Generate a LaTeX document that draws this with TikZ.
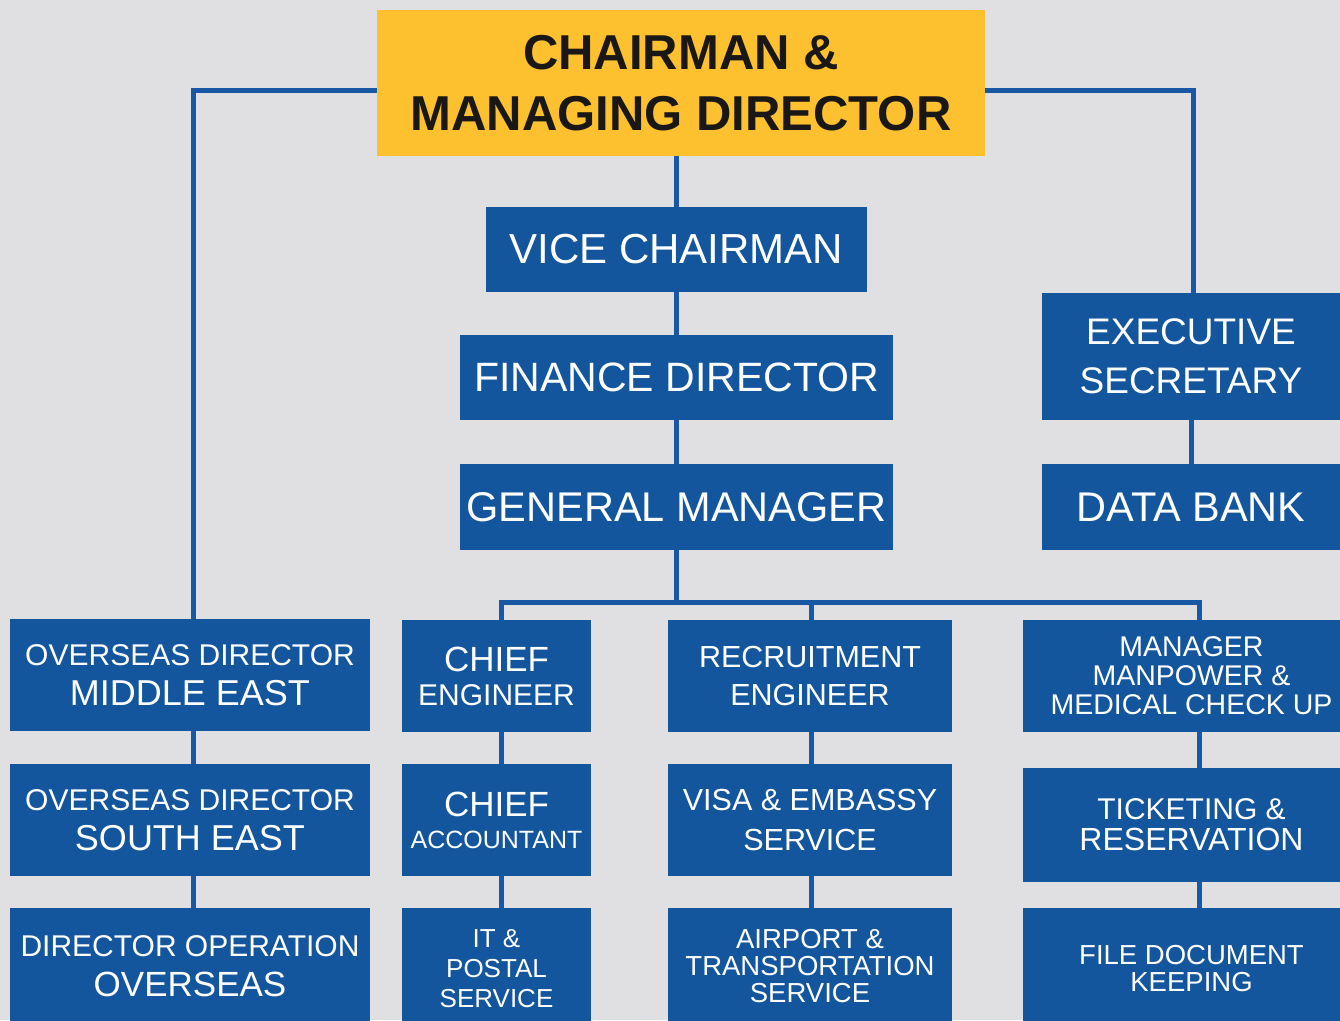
\documentclass[tikz,border=0pt]{standalone}
\usepackage{fontspec}
\setmainfont{Liberation Sans}
\usetikzlibrary{positioning}

\definecolor{bggray}{RGB}{224,224,226}
\definecolor{boxblue}{RGB}{20,86,158}
\definecolor{lineblue}{RGB}{24,88,164}
\definecolor{gold}{RGB}{253,192,47}
\definecolor{inkdark}{RGB}{26,24,22}

\newcommand\fsz[1]{\fontsize{#1}{#1}\selectfont}

\begin{document}
\begin{tikzpicture}[x=1pt, y=-1pt,
    box/.style={rectangle, fill=boxblue, text=white, inner sep=0pt, align=center},
    link/.style={draw=lineblue, line width=5pt}]
        \useasboundingbox (0,0) rectangle (1340,1020);
        \clip (0,0) rectangle (1340,1020);
        \fill[bggray] (0,0) rectangle (1340,1020);

        % Nodes
        \node[box, fill=gold, text=inkdark, minimum width=608pt, minimum height=146pt,
              font={\fontsize{49}{61}\selectfont\bfseries}] (chair) at (681,83) {CHAIRMAN \&\\MANAGING DIRECTOR};
        \node[box, minimum width=381pt, minimum height=85pt, font=\fsz{42}] (vice) at (676.5,249.5) {VICE CHAIRMAN};
        \node[box, minimum width=433pt, minimum height=85pt, font=\fsz{41}] (fin) at (676.5,377.5) {FINANCE DIRECTOR};
        \node[box, minimum width=433pt, minimum height=86pt, font=\fsz{41.5}] (gm) at (676.5,507) {GENERAL MANAGER};
        \node[box, minimum width=298pt, minimum height=127pt, font={\fontsize{37}{49}\selectfont}] (exec) at (1191,356.5) {EXECUTIVE\\SECRETARY};
        \node[box, minimum width=298pt, minimum height=86pt, font=\fsz{41.5}] (data) at (1191,507) {DATA BANK};

        \node[box, minimum width=360pt, minimum height=112pt, font={\fontsize{30}{40}\selectfont}] (odme) at (190,675) {\fsz{30}OVERSEAS DIRECTOR\\\fsz{36}MIDDLE EAST};
        \node[box, minimum width=360pt, minimum height=112pt, font={\fontsize{30}{40}\selectfont}] (odse) at (190,820) {\fsz{30}OVERSEAS DIRECTOR\\\fsz{36}SOUTH EAST};
        \node[box, minimum width=360pt, minimum height=116pt, font={\fontsize{30}{40}\selectfont}] (dirop) at (190,966) {\fsz{30}DIRECTOR OPERATION\\\fsz{35}OVERSEAS};

        \node[box, minimum width=189pt, minimum height=112pt, font={\fontsize{30}{34}\selectfont}] (ceng) at (496.5,676) {\fsz{35}CHIEF\\\fsz{30}ENGINEER};
        \node[box, minimum width=189pt, minimum height=112pt, font={\fontsize{30}{32}\selectfont}] (cacc) at (496.5,820) {\fsz{35}CHIEF\\\fsz{25}ACCOUNTANT};
        \node[box, minimum width=189pt, minimum height=122pt, font={\fontsize{26}{30}\selectfont}] (itpost) at (496.5,969) {IT \&\\POSTAL\\SERVICE};

        \node[box, minimum width=284pt, minimum height=112pt, font={\fontsize{30.5}{38}\selectfont}] (rec) at (810,676) {RECRUITMENT\\ENGINEER};
        \node[box, minimum width=284pt, minimum height=112pt, font={\fontsize{30.5}{40}\selectfont}] (visa) at (810,820) {VISA \& EMBASSY\\SERVICE};
        \node[box, minimum width=284pt, minimum height=116pt, font={\fontsize{27.5}{27}\selectfont}] (airport) at (810,966) {AIRPORT \&\\TRANSPORTATION\\SERVICE};

        \node[box, minimum width=337pt, minimum height=112pt, font={\fontsize{28.5}{29}\selectfont}] (mgr) at (1191.5,676) {MANAGER\\MANPOWER \&\\MEDICAL CHECK UP};
        \node[box, minimum width=337pt, minimum height=114pt, font={\fontsize{30}{31}\selectfont}] (ticket) at (1191.5,825) {\fsz{30}TICKETING \&\\\fsz{32}RESERVATION};
        \node[box, minimum width=337pt, minimum height=121pt, font={\fontsize{27.5}{27.5}\selectfont}] (files) at (1191.5,968.5) {FILE DOCUMENT\\KEEPING};

        % Edges
        \coordinate (bus) at (676.5,602);
        \draw[link] ([yshift=-7pt]chair.west) -| ([xshift=3pt]odme.north);
        \draw[link] ([yshift=-7pt]chair.east) -| ([xshift=2pt]exec.north);
        \draw[link] (vice.north |- chair.south) -- (vice.north);
        \draw[link] (vice.south) -- (fin.north);
        \draw[link] (fin.south) -- (gm.north);
        \draw[link] (exec.south) -- (data.north);
        \draw[link] (gm.south) -- (bus);
        \draw[link] ([xshift=4.5pt]ceng.north) |- (bus) -| ([xshift=7.5pt]mgr.north);
        \draw[link] ([xshift=1pt]rec.north) -- ([xshift=1pt]rec.north |- bus);

        \draw[link] ([xshift=3pt]odme.south) -- ([xshift=3pt]odse.north);
        \draw[link] ([xshift=3pt]odse.south) -- ([xshift=3pt]dirop.north);
        \draw[link] ([xshift=4.5pt]ceng.south) -- ([xshift=4.5pt]cacc.north);
        \draw[link] ([xshift=4.5pt]cacc.south) -- ([xshift=4.5pt]itpost.north);
        \draw[link] ([xshift=1pt]rec.south) -- ([xshift=1pt]visa.north);
        \draw[link] ([xshift=1pt]visa.south) -- ([xshift=1pt]airport.north);
        \draw[link] ([xshift=7.5pt]mgr.south) -- ([xshift=7.5pt]ticket.north);
        \draw[link] ([xshift=7.5pt]ticket.south) -- ([xshift=7.5pt]files.north);
\end{tikzpicture}
\end{document}
